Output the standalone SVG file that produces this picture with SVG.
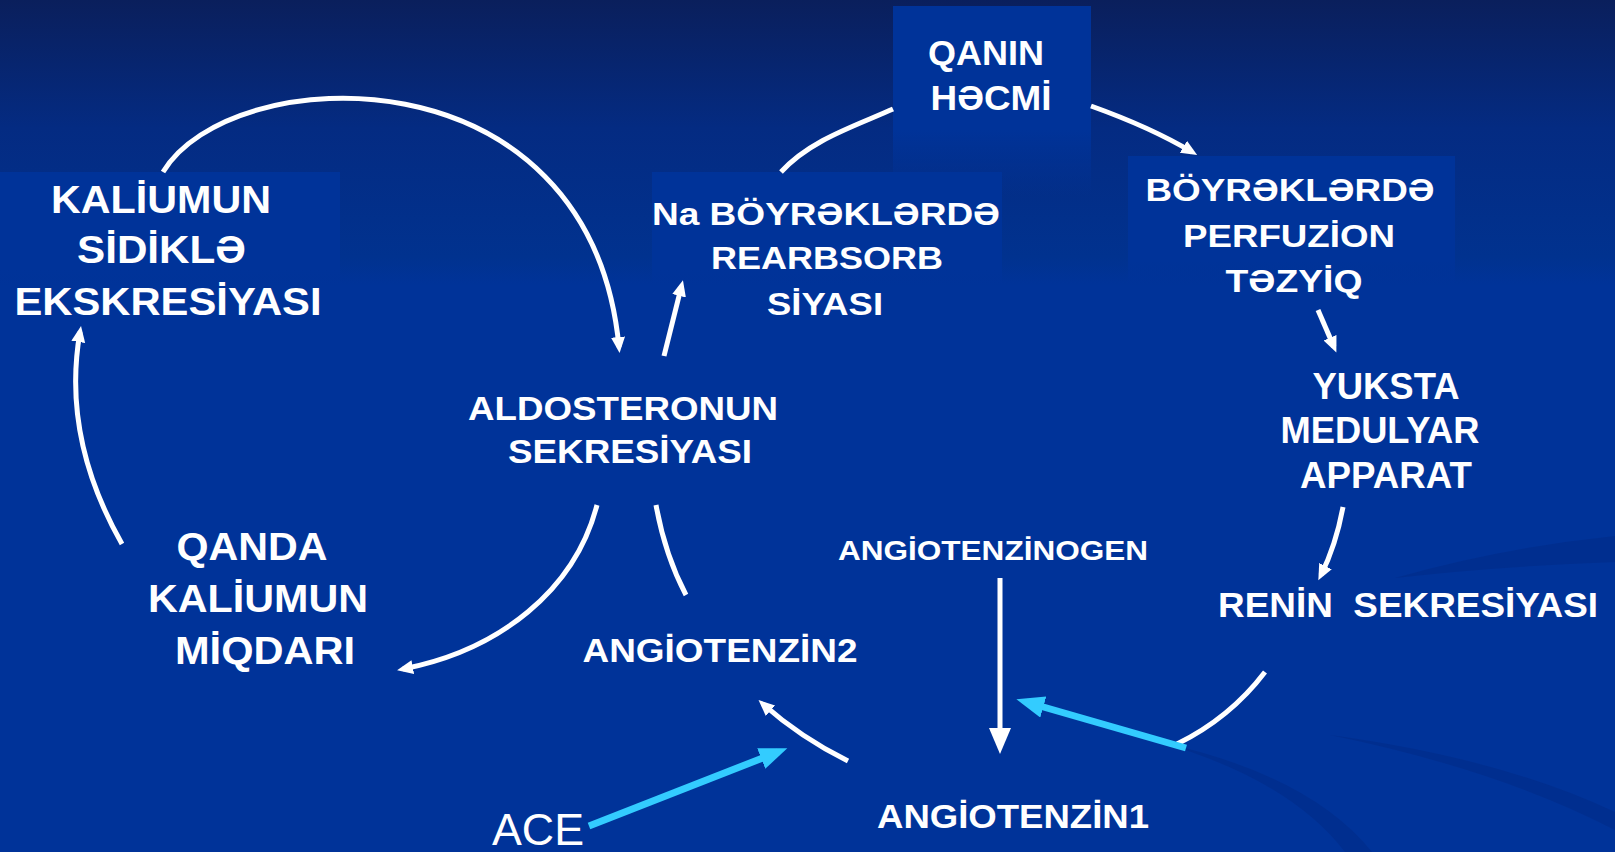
<svg xmlns="http://www.w3.org/2000/svg" width="1615" height="852" viewBox="0 0 1615 852">
<defs>
<linearGradient id="bg" x1="0" y1="0" x2="0" y2="285" gradientUnits="userSpaceOnUse">
<stop offset="0" stop-color="#0a1f5c"/>
<stop offset="0.45" stop-color="#042b82"/>
<stop offset="0.9" stop-color="#01328f"/>
<stop offset="1" stop-color="#003399"/>
</linearGradient>
<linearGradient id="bx" x1="0" y1="0" x2="0" y2="1">
<stop offset="0" stop-color="#003399" stop-opacity="1"/>
<stop offset="0.65" stop-color="#003399" stop-opacity="1"/>
<stop offset="1" stop-color="#003399" stop-opacity="0"/>
</linearGradient>
<marker id="aw" markerUnits="userSpaceOnUse" markerWidth="17" markerHeight="15" refX="10" refY="7" orient="auto">
<path d="M0,0 L16,7 L0,14 z" fill="#fff"/>
</marker>
<marker id="awL" markerUnits="userSpaceOnUse" markerWidth="27" markerHeight="23" refX="18" refY="11" orient="auto">
<path d="M0,0 L26,11 L0,22 z" fill="#fff"/>
</marker>
<marker id="ab" markerUnits="userSpaceOnUse" markerWidth="29" markerHeight="23" refX="18" refY="11" orient="auto">
<path d="M0,0 L28,11 L0,22 z" fill="#33ccff"/>
</marker>
<style>
.t{font-family:"Liberation Sans",Arial,sans-serif;font-weight:bold;fill:#fff;text-anchor:middle}
.r{font-family:"Liberation Sans",Arial,sans-serif;font-weight:normal;fill:#fff;text-anchor:middle}
.box{fill:url(#bx)}
.c{fill:none;stroke:#fff;stroke-width:5}
.cb{fill:none;stroke:#33ccff;stroke-width:7}
.sw{fill:#00297f;opacity:0.4}
</style>
</defs>
<rect x="0" y="0" width="1615" height="852" fill="url(#bg)"/>
<g id="decor">
<path class="sw" d="M1395,578 Q1500,548 1615,536 L1615,562 Q1500,566 1395,578 z"/>
<path class="sw" d="M1160,742 Q1290,780 1345,852 L1372,852 Q1310,775 1160,742 z"/>
<path class="sw" d="M1330,735 Q1500,770 1615,830 L1615,812 Q1500,758 1330,735 z"/>
</g>
<g id="n-qanin">
<rect class="box" x="893" y="6" width="198" height="190"/>
<text class="t" font-size="35" x="986" y="65" textLength="116" lengthAdjust="spacingAndGlyphs">QANIN</text>
<text class="t" font-size="35" x="991" y="110" textLength="121" lengthAdjust="spacingAndGlyphs">HƏCMİ</text>
</g>
<g id="n-boyrek">
<rect class="box" x="1128" y="156" width="327" height="160"/>
<text class="t" font-size="31" x="1290" y="201" textLength="289" lengthAdjust="spacingAndGlyphs">BÖYRƏKLƏRDƏ</text>
<text class="t" font-size="31" x="1289" y="247" textLength="212" lengthAdjust="spacingAndGlyphs">PERFUZİON</text>
<text class="t" font-size="31" x="1294" y="292" textLength="137" lengthAdjust="spacingAndGlyphs">TƏZYİQ</text>
</g>
<g id="n-na">
<rect class="box" x="652" y="172" width="350" height="150"/>
<text class="t" font-size="32" x="826" y="225" textLength="348" lengthAdjust="spacingAndGlyphs">Na BÖYRƏKLƏRDƏ</text>
<text class="t" font-size="32" x="827" y="269" textLength="232" lengthAdjust="spacingAndGlyphs">REARBSORB</text>
<text class="t" font-size="32" x="825" y="315" textLength="116" lengthAdjust="spacingAndGlyphs">SİYASI</text>
</g>
<g id="n-kalium-excr">
<rect class="box" x="0" y="172" width="340" height="150"/>
<text class="t" font-size="39" x="161" y="213" textLength="220" lengthAdjust="spacingAndGlyphs">KALİUMUN</text>
<text class="t" font-size="39" x="161.5" y="263" textLength="169" lengthAdjust="spacingAndGlyphs">SİDİKLƏ</text>
<text class="t" font-size="39" x="168" y="315" textLength="307" lengthAdjust="spacingAndGlyphs">EKSKRESİYASI</text>
</g>
<g id="n-aldo">
<text class="t" font-size="33" x="623" y="420" textLength="310" lengthAdjust="spacingAndGlyphs">ALDOSTERONUN</text>
<text class="t" font-size="33" x="630" y="463" textLength="244" lengthAdjust="spacingAndGlyphs">SEKRESİYASI</text>
</g>
<g id="n-qanda">
<text class="t" font-size="39" x="252" y="560" textLength="151" lengthAdjust="spacingAndGlyphs">QANDA</text>
<text class="t" font-size="39" x="258" y="612" textLength="220" lengthAdjust="spacingAndGlyphs">KALİUMUN</text>
<text class="t" font-size="39" x="265" y="664" textLength="180" lengthAdjust="spacingAndGlyphs">MİQDARI</text>
</g>
<g id="n-yuksta">
<text class="t" font-size="36" x="1386" y="399" textLength="147" lengthAdjust="spacingAndGlyphs">YUKSTA</text>
<text class="t" font-size="36" x="1380" y="443" textLength="199" lengthAdjust="spacingAndGlyphs">MEDULYAR</text>
<text class="t" font-size="36" x="1386" y="488" textLength="172" lengthAdjust="spacingAndGlyphs">APPARAT</text>
</g>
<g id="n-renin">
<text class="t" font-size="35" x="1408" y="617" textLength="380" lengthAdjust="spacingAndGlyphs" xml:space="preserve">RENİN  SEKRESİYASI</text>
</g>
<g id="n-angiogen">
<text class="t" font-size="28" x="993" y="560" textLength="310" lengthAdjust="spacingAndGlyphs">ANGİOTENZİNOGEN</text>
</g>
<g id="n-ang2">
<text class="t" font-size="33" x="720" y="662" textLength="275" lengthAdjust="spacingAndGlyphs">ANGİOTENZİN2</text>
</g>
<g id="n-ang1">
<text class="t" font-size="33" x="1013" y="828" textLength="272" lengthAdjust="spacingAndGlyphs">ANGİOTENZİN1</text>
</g>
<g id="n-ace">
<text class="r" font-size="44" x="538" y="845" textLength="92" lengthAdjust="spacingAndGlyphs">ACE</text>
</g>
<g id="connectors">
<path class="c" d="M163,172 C230,60 590,45 619,347" marker-end="url(#aw)"/>
<path class="c" d="M122,544 C80,470 68,400 80,332" marker-end="url(#aw)"/>
<path class="c" d="M664,356 L681.5,286" marker-end="url(#aw)"/>
<path class="c" d="M893,109 C855,126 810,140 781,172"/>
<path class="c" d="M1091,106 C1130,120 1162,134 1192,152" marker-end="url(#aw)"/>
<path class="c" d="M1318,310 L1334,347" marker-end="url(#aw)"/>
<path class="c" d="M1343,507 Q1336,545 1321,575" marker-end="url(#aw)"/>
<path class="c" d="M1265,672 Q1230,718 1177,744"/>
<path class="c" d="M1000,578 L1000,746" marker-end="url(#awL)"/>
<path class="c" d="M848,761 Q800,737 763,704" marker-end="url(#aw)"/>
<path class="c" d="M597,505 C575,590 500,650 403,669" marker-end="url(#aw)"/>
<path class="c" d="M656,505 Q665,555 686,595"/>
<path class="cb" d="M1186,748 L1026,702" marker-end="url(#ab)"/>
<path class="cb" d="M589,826 L778,752" marker-end="url(#ab)"/>
</g>
</svg>
